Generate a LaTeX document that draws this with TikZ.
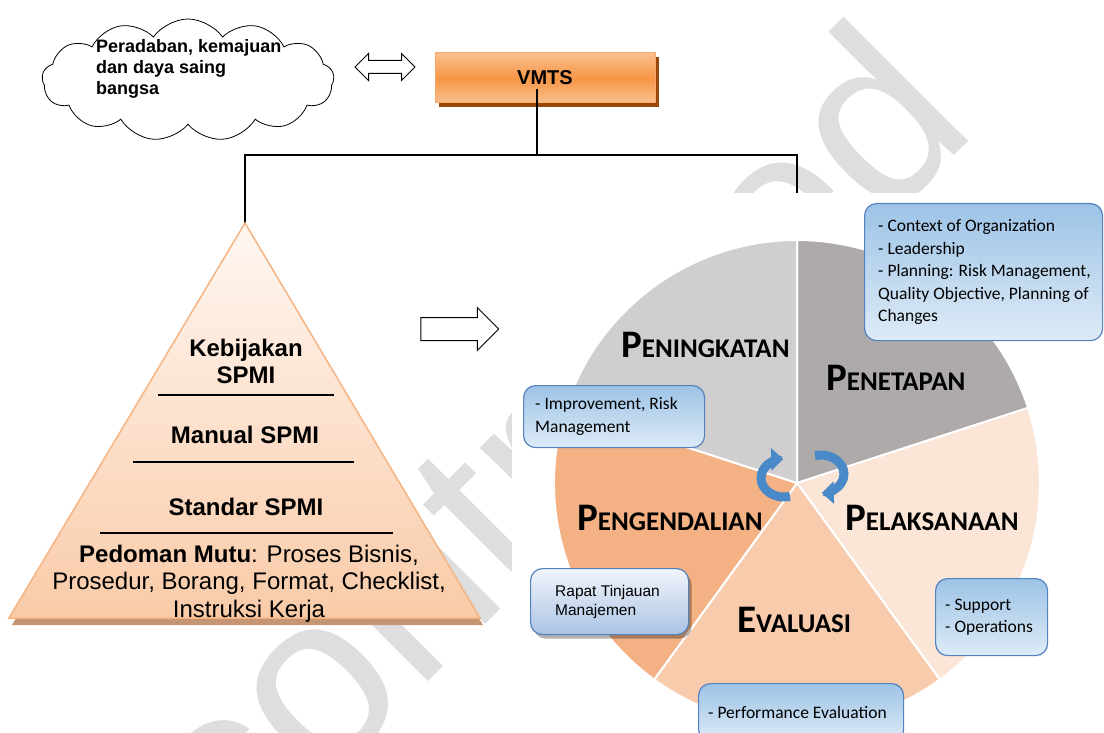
\documentclass[tikz,border=0pt]{standalone}
\usepackage{fontspec}
\setmainfont{Liberation Sans}
\newfontfamily\calibri{Carlito}
\usetikzlibrary{shapes.symbols,shapes.arrows,arrows.meta,shadows}
\definecolor{wm}{RGB}{222,222,222}
\definecolor{pgrey}{RGB}{208,206,206}
\definecolor{dgrey}{RGB}{174,170,170}
\definecolor{peachA}{RGB}{251,229,214}
\definecolor{peachB}{RGB}{248,203,173}
\definecolor{peachC}{RGB}{244,177,131}
\definecolor{bluetop}{RGB}{157,195,230}
\definecolor{bluebot}{RGB}{222,235,247}
\definecolor{bborder}{RGB}{84,130,190}
\definecolor{arrowblue}{RGB}{74,137,200}
\definecolor{orangemid}{RGB}{247,150,70}
\definecolor{orangelt}{RGB}{250,191,143}
\definecolor{orangeborder}{RGB}{248,170,110}
\definecolor{orangeshadow}{RGB}{152,72,7}
\definecolor{tritop}{RGB}{255,247,242}
\definecolor{tribot}{RGB}{249,203,168}
\definecolor{triborder}{RGB}{245,180,130}
\definecolor{trishadow}{RGB}{196,150,115}
\definecolor{rapattop}{RGB}{242,245,251}
\definecolor{rapatbot}{RGB}{170,195,228}
\newcommand\pielabel[2]{{\fontsize{39}{39}\selectfont #1}{\fontsize{27}{27}\selectfont #2}}
\begin{document}
\begin{tikzpicture}[x=1pt,y=-1pt,
  conn/.style={line width=1.5pt, black},
  divider/.style={line width=1.3pt, black},
  bluebox/.style={draw=bborder, line width=1.2pt, rounded corners=12pt, top color=bluetop, bottom color=bluebot, anchor=north west, inner sep=0pt},
  boxtext/.style={anchor=west, align=left, inner sep=0pt, font=\calibri\fontsize{17.5}{22.4}\selectfont},
  plabel/.style={anchor=base west, inner sep=0pt, font=\calibri\bfseries},
  cyc/.style={line width=9pt, arrowblue, -{Triangle[length=12pt,width=22pt]}},
  slice/.style={draw=white, line width=2pt}
]
\useasboundingbox (0,0) rectangle (1104,733);
\clip (0,0) rectangle (1104,733);
\fill[white] (0,0) rectangle (1104,733);
% watermark
\node[rotate=45, anchor=base east, inner sep=0pt, text=wm, font=\fontsize{243}{243}\selectfont] (wmark) at (980,130) {Uncontrolled};
% VMTS
\fill[orangeshadow] (439,57) rectangle (659,107);
\node[draw=orangeborder, line width=1pt, top color=orangelt, bottom color=orangelt, middle color=orangemid, minimum width=220pt, minimum height=50pt, inner sep=0pt, font=\bfseries\fontsize{20}{20}\selectfont] (vmts) at (545,78) {VMTS};
% cloud
\node[cloud, draw, fill=white, line width=0.8pt, cloud puffs=13, cloud puff arc=110, aspect=2.4, minimum width=292pt, minimum height=122pt, inner sep=0pt] (cloud) at (188,80) {};
\node[anchor=base west, align=left, inner sep=0pt, font=\bfseries\fontsize{18}{21}\selectfont] (cloudtxt) at (96,95) {Peradaban, kemajuan\\dan daya saing\\bangsa};
% double arrow
\node[double arrow, draw, fill=white, line width=1pt, minimum height=60pt, inner xsep=2pt, inner ysep=6pt, double arrow head extend=7pt] (dbl) at (385,67) {};
% connectors
\coordinate (j) at (537,155);
\coordinate (tri) at (245,223);
\coordinate (pietop) at (797,193);
\draw[conn] ([xshift=-8pt,yshift=-11pt]vmts.center) -- (j);
\draw[conn] (tri) |- (j) -| (pietop);
% triangle
\fill[trishadow] (247,229) -- (12,625) -- (483,625) -- cycle;
\shade[top color=tritop, bottom color=tribot, draw=triborder, line width=1.5pt] (tri) -- (9,618) -- (480,618) -- cycle;
\node[anchor=base, align=center, inner sep=0pt, font=\bfseries\fontsize{24}{27}\selectfont] (keb) at (246,383) {Kebijakan\\SPMI};
\draw[divider] (158,395) -- (334,395);
\node[anchor=base, inner sep=0pt, font=\bfseries\fontsize{24}{27}\selectfont] (man) at (245,443) {Manual SPMI};
\draw[divider] (133,462) -- (354,462);
\node[anchor=base, inner sep=0pt, font=\bfseries\fontsize{24}{27}\selectfont] (std) at (246,515) {Standar SPMI};
\draw[divider] (100,533) -- (393,533);
\node[anchor=base, align=center, inner sep=0pt, font=\fontsize{24}{27.5}\selectfont] (ped) at (249,617) {\textbf{Pedoman Mutu}: Proses Bisnis,\\Prosedur, Borang, Format, Checklist,\\Instruksi Kerja};
% right arrow
\node[single arrow, draw, fill=white, line width=1pt, minimum height=78pt, inner xsep=2pt, inner ysep=11pt, single arrow head extend=10pt] (rarr) at (454,329) {};
% pie picture
\fill[white] (512,193) rectangle (1104,733);
\coordinate (c) at (797,483);
\filldraw[slice, fill=dgrey] (c) -- ++(-90:243) arc[start angle=-90, end angle=-18, radius=243] -- cycle;
\filldraw[slice, fill=peachA] (c) -- ++(-18:243) arc[start angle=-18, end angle=54, radius=243] -- cycle;
\filldraw[slice, fill=peachB] (c) -- ++(54:243) arc[start angle=54, end angle=126, radius=243] -- cycle;
\filldraw[slice, fill=peachC] (c) -- ++(126:243) arc[start angle=126, end angle=198, radius=243] -- cycle;
\filldraw[slice, fill=pgrey] (c) -- ++(198:243) arc[start angle=198, end angle=270, radius=243] -- cycle;
% cycle arrows
\draw[cyc] (784,478) ++(75:23 and 19) arc[start angle=75, end angle=268, x radius=23, y radius=19];
\draw[cyc] (821,474) ++(255:23 and 19) arc[start angle=255, end angle=448, x radius=23, y radius=19];
% labels
\node[plabel] (ping) at (621,357) {\pielabel{P}{ENINGKATAN}};
\node[plabel] (pnet) at (826,390) {\pielabel{P}{ENETAPAN}};
\node[plabel] (plak) at (845,530) {\pielabel{P}{ELAKSANAAN}};
\node[plabel] (peval) at (737,632) {\pielabel{E}{VALUASI}};
\node[plabel] (pgen) at (577,530) {\pielabel{P}{ENGENDALIAN}};
% text boxes
\node[bluebox, minimum width=238pt, minimum height=137pt] (b1) at (864,203) {};
\node[boxtext] (t1) at ([xshift=14pt]b1.west) {- Context of Organization\\- Leadership\\- Planning: Risk Management,\\Quality Objective, Planning of\\Changes};
\node[bluebox, minimum width=181pt, minimum height=62pt] (b2) at (523,385) {};
\node[boxtext] (t2) at ([xshift=12pt]b2.west) {- Improvement, Risk\\Management};
\node[bluebox, top color=rapattop, bottom color=rapatbot, minimum width=158pt, minimum height=66pt, drop shadow={shadow xshift=3pt, shadow yshift=-4pt, opacity=0.3, fill=black}] (b3) at (530,568) {};
\node[anchor=west, align=left, inner sep=0pt, font=\fontsize{15.5}{19}\selectfont] (t3) at ([xshift=25pt]b3.west) {Rapat Tinjauan\\Manajemen};
\node[bluebox, minimum width=112pt, minimum height=77pt] (b4) at (935,578) {};
\node[boxtext] (t4) at ([xshift=10pt]b4.west) {- Support\\- Operations};
\node[bluebox, minimum width=205pt, minimum height=58pt] (b5) at (698,683) {};
\node[boxtext] (t5) at ([xshift=10pt]b5.west) {- Performance Evaluation};
\end{tikzpicture}
\end{document}
